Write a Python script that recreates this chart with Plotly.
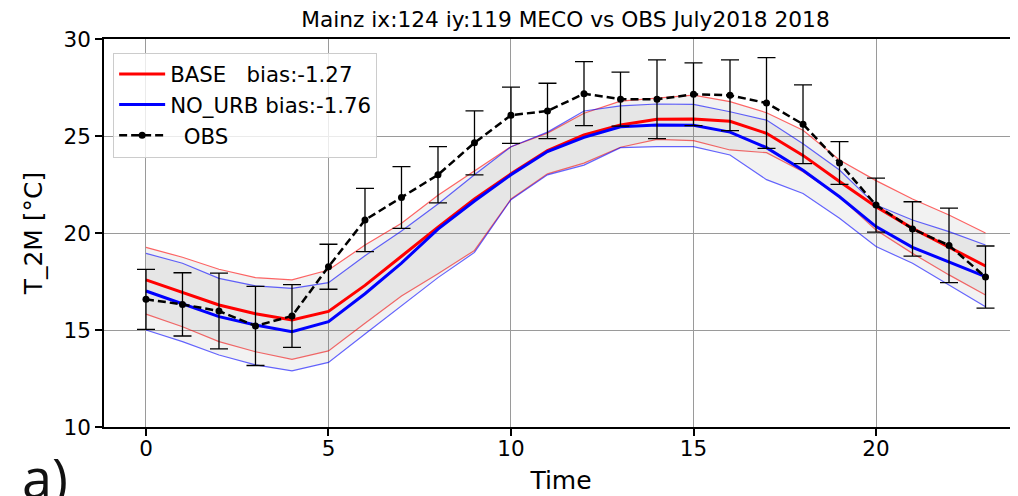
import plotly.graph_objects as go

hours = list(range(24))

# Observations (mean and standard deviation)
obs_mean = [16.58, 16.32, 15.98, 15.21, 15.72, 18.26, 20.67, 21.83, 23.00, 24.65, 26.07, 26.29,
            27.18, 26.90, 26.89, 27.15, 27.10, 26.70, 25.61, 23.61, 21.44, 20.21, 19.36, 17.73]
obs_std = [1.55, 1.63, 1.95, 2.04, 1.62, 1.16, 1.63, 1.59, 1.45, 1.65, 1.45, 1.43,
           1.65, 1.39, 2.03, 1.62, 1.82, 2.34, 2.03, 1.10, 1.39, 1.40, 1.92, 1.60]

# BASE run: mean, upper and lower envelope
base_mean = [17.58, 16.92, 16.29, 15.84, 15.52, 15.96, 17.30, 18.80, 20.30, 21.75, 23.05, 24.25,
             25.05, 25.57, 25.86, 25.88, 25.76, 25.14, 24.00, 22.65, 21.36, 20.24, 19.29, 18.30]
base_hi = [19.26, 18.75, 18.13, 17.70, 17.58, 18.09, 19.38, 20.50, 21.95, 23.20, 24.45, 25.15,
           26.17, 26.80, 26.94, 27.11, 26.77, 26.20, 25.30, 23.76, 22.70, 21.75, 20.93, 20.00]
base_lo = [15.82, 15.17, 14.40, 13.88, 13.49, 13.92, 15.35, 16.75, 17.90, 19.10, 21.75, 23.05,
           23.60, 24.42, 24.83, 24.76, 24.28, 24.14, 23.16, 21.87, 20.15, 18.95, 17.84, 16.80]

# NO_URB run: mean, upper and lower envelope
nourb_mean = [17.01, 16.34, 15.69, 15.26, 14.91, 15.43, 16.87, 18.45, 20.20, 21.65, 23.00, 24.20,
              24.93, 25.48, 25.57, 25.55, 25.20, 24.40, 23.23, 21.87, 20.33, 19.26, 18.52, 17.75]
nourb_hi = [18.95, 18.44, 17.66, 17.27, 17.15, 17.44, 18.83, 20.10, 21.50, 23.00, 24.45, 25.20,
            26.29, 26.55, 26.65, 26.63, 26.25, 25.82, 24.60, 23.25, 21.44, 20.67, 20.07, 19.38]
nourb_lo = [15.00, 14.40, 13.71, 13.20, 12.89, 13.33, 14.79, 16.25, 17.70, 19.00, 21.72, 23.00,
            23.50, 24.40, 24.45, 24.45, 24.02, 22.75, 22.04, 20.76, 19.30, 18.44, 17.32, 16.20]

x_ticks = [0, 5, 10, 15, 20]
y_ticks = [10, 15, 20, 25, 30]

title = "Mainz ix:124 iy:119 MECO vs OBS July2018 2018"
label_base = "BASE\u00a0\u00a0\u00a0bias:-1.27"
label_nourb = "NO_URB bias:-1.76"
label_obs = "\u00a0\u00a0OBS"

FONT = "DejaVu Sans"
band_fill = "rgba(128,128,128,0.1)"
GRID = "#9a9a9a"

# the page places the figure 8 px from the top-left corner of the window
W, H = 1010, 488
L, T, B = 96, 31, 69
PW, PH = W - L, H - T - B

fig = go.Figure()

# bands
fig.add_trace(go.Scatter(x=hours, y=base_lo, mode="lines", line=dict(color="rgba(255,0,0,0.6)", width=1.2),
                         showlegend=False, hoverinfo="skip"))
fig.add_trace(go.Scatter(x=hours, y=base_hi, mode="lines", line=dict(color="rgba(255,0,0,0.6)", width=1.2),
                         fill="tonexty", fillcolor=band_fill, showlegend=False, hoverinfo="skip"))
fig.add_trace(go.Scatter(x=hours, y=nourb_lo, mode="lines", line=dict(color="rgba(0,0,255,0.6)", width=1.2),
                         showlegend=False, hoverinfo="skip"))
fig.add_trace(go.Scatter(x=hours, y=nourb_hi, mode="lines", line=dict(color="rgba(0,0,255,0.6)", width=1.2),
                         fill="tonexty", fillcolor=band_fill, showlegend=False, hoverinfo="skip"))

# means
fig.add_trace(go.Scatter(x=hours, y=base_mean, mode="lines", line=dict(color="#ff0000", width=3),
                         name=label_base))
fig.add_trace(go.Scatter(x=hours, y=nourb_mean, mode="lines", line=dict(color="#0000ff", width=3),
                         name=label_nourb))

# observations
fig.add_trace(go.Scatter(x=hours, y=obs_mean, mode="lines+markers",
                         line=dict(color="black", width=2.5, dash="8px,4px"),
                         marker=dict(color="black", size=7),
                         error_y=dict(type="data", array=obs_std, visible=True, color="black",
                                      thickness=1.3, width=9),
                         name=label_obs))

fig.update_layout(
    width=W, height=H,
    margin=dict(l=L, r=0, t=T, b=B, autoexpand=False),
    paper_bgcolor="white", plot_bgcolor="white",
    font=dict(family=FONT, size=21, color="black"),
    title=dict(text=title, x=(L + PW / 2 + 4.5) / W, xanchor="center", y=1 - 11 / H, yanchor="middle",
               font=dict(family=FONT, size=21.7, color="black")),
    showlegend=True,
    legend=dict(x=0.01, y=0.965, xanchor="left", yanchor="top", traceorder="normal",
                bgcolor="rgba(255,255,255,0.8)", bordercolor="#cccccc", borderwidth=1,
                font=dict(family=FONT, size=21.3), itemwidth=46, tracegroupgap=0),
    xaxis=dict(range=[-1.15, 23.89], tickvals=x_ticks, showgrid=True, gridcolor=GRID,
               gridwidth=1.2, zeroline=False, showline=True, linecolor="black", linewidth=1.5, mirror=True,
               ticks="outside", ticklen=7, tickwidth=1.5, tickcolor="black", ticklabelstandoff=-6,
               title=dict(text="Time", font=dict(family=FONT, size=25), standoff=12),
               tickfont=dict(family=FONT, size=21.5)),
    yaxis=dict(range=[10, 30], tickvals=y_ticks, showgrid=True, gridcolor=GRID,
               gridwidth=1.2, zeroline=False, showline=True, linecolor="black", linewidth=1.5, mirror=False,
               ticks="outside", ticklen=7, tickwidth=1.5, tickcolor="black",
               title=dict(text="T_2M [°C]", font=dict(family=FONT, size=25), standoff=14),
               tickfont=dict(family=FONT, size=21.5)),
)

fig.add_annotation(text="a)", xref="paper", yref="paper", x=(12 - L) / PW, y=1 - (430 - T) / PH,
                   xanchor="left", yanchor="top", showarrow=False,
                   font=dict(family="Open Sans", size=54, color="#111111"))

fig.write_html("out.html")
